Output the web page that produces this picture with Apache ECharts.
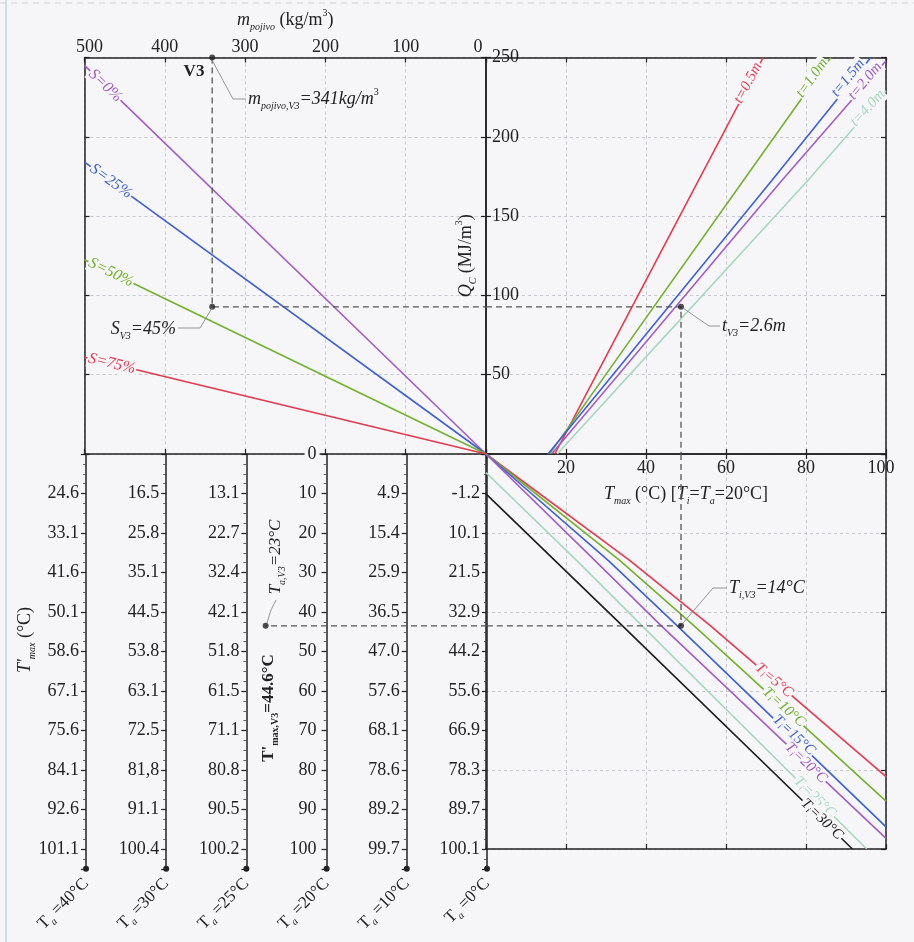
<!DOCTYPE html>
<html><head><meta charset="utf-8">
<script src="https://cdn.jsdelivr.net/npm/echarts@6/dist/echarts.min.js"></script>
<style>html,body{margin:0;padding:0;background:#f6f6f8}#c{width:914px;height:942px}</style>
</head><body><div id="c"></div>
<script>
// ===== DATA =====
// Top-left: Qc vs m_pojivo for several S
const massBinder = [0, 500];
const qS0  = [0, 245];
const qS25 = [0, 184];
const qS50 = [0, 122.5];
const qS75 = [0, 61];
const sNames = ['S=0%', 'S=25%', 'S=50%', 'S=75%'];
const sLabelMass = [474, 467, 467, 466];
const sLabelQ = [232.3, 171.9, 114.4, 56.9];

// Top-right: Qc vs Tmax for several t
const t05Tmax = [17.2, 28.1, 53.1, 69.3], t05Q = [0, 52.4, 172.3, 250];
const t10Tmax = [15.9, 30.6, 64.3, 86.2], t10Q = [0, 52.4, 172.3, 250];
const t15Tmax = [15.5, 32.5, 71.4, 96.2], t15Q = [0, 52.4, 172.3, 250];
const t20Tmax = [16.4, 33.9, 73.9, 100],  t20Q = [0, 52.4, 172.3, 248];
const t40Tmax = [17.8, 36.8, 80.4, 100],  t40Q = [0, 52.4, 172.3, 229];
const tNames = ['t=0.5m', 't=1.0m', 't=1.5m', 't=2.0m', 't=4.0m'];
const tLabelTmax = [65.5, 81.5, 90.5, 94.8, 95.4];
const tLabelQ = [234, 237, 237, 235, 218];

// Bottom-right: T'max vs Tmax for several Ti
const ti5Tmax  = [0, 36, 56, 100],      ti5Tp  = [0, 27, 43.4, 81.7];
const ti10Tmax = [0, 33.5, 51.9, 100],  ti10Tp = [0, 27, 43.4, 87.9];
const ti15Tmax = [0, 30.6, 47.7, 100],  ti15Tp = [0, 27, 43.4, 94.4];
const ti20Tmax = [0, 27.25, 43.7, 100], ti20Tp = [0, 27, 43.4, 97.3];
const ti25Tmax = [0, 22.7, 38.9, 95.2], ti25Tp = [4.7, 27, 43.4, 100];
const ti30Tmax = [0, 17.25, 34, 91.6],  ti30Tp = [10.1, 27, 43.4, 100];
const tiNames = ['5', '10', '15', '20', '25', '30'];
const tiLabelTmax = [72, 74.5, 77, 80, 82.2, 84];
const tiLabelTp = [57.3, 64.1, 71.2, 78.2, 86.9, 92.5];

// Bottom-left: T'max scales for several Ta (labels at 0,10,...,100 of the Ta=20 scale)
const taValues = ['40', '30', '25', '20', '10', '0'];
const ta40 = ['', '24.6', '33.1', '41.6', '50.1', '58.6', '67.1', '75.6', '84.1', '92.6', '101.1'];
const ta30 = ['', '16.5', '25.8', '35.1', '44.5', '53.8', '63.1', '72.5', '81,8', '91.1', '100.4'];
const ta25 = ['', '13.1', '22.7', '32.4', '42.1', '51.8', '61.5', '71.1', '80.8', '90.5', '100.2'];
const ta20 = ['0', '10', '20', '30', '40', '50', '60', '70', '80', '90', '100'];
const ta10 = ['', '4.9', '15.4', '25.9', '36.5', '47.0', '57.6', '68.1', '78.6', '89.2', '99.7'];
const ta0  = ['', '-1.2', '10.1', '21.5', '32.9', '44.2', '55.6', '66.9', '78.3', '89.7', '100.1'];

// Example V3 path
const v3Mass = 341, v3Q = 92.8, v3Tmax = 48.75, v3Tp = 43.5, v3TaPos = 2.24, taAxisLast = 5;

// ===== STYLE =====
const FF = "'Liberation Serif','Times New Roman',serif";
const BG = '#f6f6f8';
const INK = '#222';
const GRIDC = '#bcbcc4';
const COL = { red: '#e6394f', green: '#73b22f', blue: '#3e60d6', purple: '#a35cc8', mint: '#a6d8bf', black: '#1c1c1c' };

function richE(fs, color, lhExtra) {
  const lh = fs + (lhExtra === undefined ? 6 : lhExtra);
  return {
    i: { fontFamily: FF, fontSize: fs, fontStyle: 'italic', color, lineHeight: lh },
    n: { fontFamily: FF, fontSize: fs, fontStyle: 'normal', color, lineHeight: lh },
    s: { fontFamily: FF, fontSize: Math.round(fs * 0.58), fontStyle: 'italic', color, verticalAlign: 'bottom', lineHeight: lhExtra === undefined ? 10 : 6 },
    p: { fontFamily: FF, fontSize: Math.round(fs * 0.58), color, verticalAlign: 'top', lineHeight: 10 }
  };
}
function richZ(fs, color, weight) {
  const w = weight || 'normal';
  const lh = fs + 6;
  return {
    i: { fontFamily: FF, fontSize: fs, fontStyle: 'italic', fontWeight: w, fill: color, lineHeight: lh },
    n: { fontFamily: FF, fontSize: fs, fontStyle: 'normal', fontWeight: w, fill: color, lineHeight: lh },
    b: { fontFamily: FF, fontSize: fs, fontStyle: 'normal', fontWeight: 'bold', fill: color, lineHeight: lh },
    s: { fontFamily: FF, fontSize: Math.round(fs * 0.58), fontStyle: 'italic', fontWeight: w, fill: color, verticalAlign: 'bottom', lineHeight: 10 },
    bs: { fontFamily: FF, fontSize: Math.round(fs * 0.58), fontStyle: 'normal', fontWeight: 'bold', fill: color, verticalAlign: 'bottom', lineHeight: 10 },
    p: { fontFamily: FF, fontSize: Math.round(fs * 0.58), fill: color, verticalAlign: 'top', lineHeight: 10 }
  };
}

const lineAxis = { show: true, onZero: false, lineStyle: { color: INK, width: 1.5 } };
const tickIn = { show: true, inside: true, length: 5, lineStyle: { color: INK, width: 1.2 } };
const dashGrid = { show: true, lineStyle: { color: GRIDC, type: [3, 3], width: 0.8 } };
const tickLabel = { fontFamily: FF, fontSize: 18, color: INK };
const edgeRich = {
  l: { fontFamily: FF, fontSize: 18, color: INK, padding: [0, 0, 0, 10] },
  r: { fontFamily: FF, fontSize: 18, color: INK, padding: [0, 16, 0, 0] },
  r2: { fontFamily: FF, fontSize: 18, color: INK, padding: [0, 10, 0, 0] }
};

function pairs(xs, ys) { return xs.map((x, i) => [x, ys[i]]); }

function lineSeries(xi, yi, data, color, label) {
  const s = {
    type: 'line', xAxisIndex: xi, yAxisIndex: yi, data, symbol: 'none', silent: true,
    lineStyle: { color, width: 1.6 }, z: 3, animation: false
  };
  if (label) {
    s.markPoint = {
      symbol: 'circle', symbolSize: 1, itemStyle: { color: 'rgba(0,0,0,0)' }, silent: true, animation: false,
      data: [{ coord: label.coord, label: {
        show: true, position: 'inside', formatter: label.text, rotate: label.rotate,
        backgroundColor: BG, padding: [0, 1], rich: richE(label.fs || 15, color, 1)
      } }]
    };
  }
  return s;
}

const sColors = [COL.purple, COL.blue, COL.green, COL.red];
const sQ = [qS0, qS25, qS50, qS75];
const sRot = [-44.1, -36, -25.8, -13.6];
const tColors = [COL.red, COL.green, COL.blue, COL.purple, COL.mint];
const tData = [pairs(t05Tmax, t05Q), pairs(t10Tmax, t10Q), pairs(t15Tmax, t15Q), pairs(t20Tmax, t20Q), pairs(t40Tmax, t40Q)];
const tRot = [62.3, 54.7, 50.7, 49.8, 47.5];
const tiColors = [COL.red, COL.green, COL.blue, COL.purple, COL.mint, COL.black];
const tiData = [pairs(ti5Tmax, ti5Tp), pairs(ti10Tmax, ti10Tp), pairs(ti15Tmax, ti15Tp), pairs(ti20Tmax, ti20Tp), pairs(ti25Tmax, ti25Tp), pairs(ti30Tmax, ti30Tp)];
const tiRot = [-40.7, -42.1, -43.1, -43.6, -44.7, -44.1];

const series = [];
sQ.forEach((q, k) => series.push(lineSeries(0, 0, pairs(massBinder, q), sColors[k], {
  coord: [sLabelMass[k], sLabelQ[k]], text: '{i|' + sNames[k] + '}', rotate: sRot[k], fs: 16 })));
tData.forEach((d, k) => series.push(lineSeries(2, 2, d, tColors[k], {
  coord: [tLabelTmax[k], tLabelQ[k]], text: '{i|' + tNames[k] + '}', rotate: tRot[k], fs: 15 })));
tiData.forEach((d, k) => series.push(lineSeries(4, 4, d, tiColors[k], {
  coord: [tiLabelTmax[k], tiLabelTp[k]], text: '{i|T}{s|i}{i|=' + tiNames[k] + '°C}', rotate: tiRot[k], fs: 15 })));

// V3 dashed path
const dashStyle = { color: '#555', width: 1.3, type: [6, 4] };
function dashSeries(xi, yi, data) {
  return { type: 'line', xAxisIndex: xi, yAxisIndex: yi, data, symbol: 'none', silent: true, lineStyle: dashStyle, z: 4, animation: false };
}
series.push(dashSeries(0, 0, [[v3Mass, 250], [v3Mass, v3Q], [0, v3Q]]));
series.push(dashSeries(2, 2, [[0, v3Q], [v3Tmax, v3Q], [v3Tmax, 0]]));
series.push(dashSeries(4, 4, [[v3Tmax, 0], [v3Tmax, v3Tp], [0, v3Tp]]));
series.push(dashSeries(6, 6, [[taAxisLast, v3Tp], [v3TaPos, v3Tp]]));
function dotSeries(xi, yi, data) {
  return { type: 'scatter', xAxisIndex: xi, yAxisIndex: yi, data, symbolSize: 6, itemStyle: { color: INK }, clip: false, silent: true, z: 6, animation: false };
}
series.push(dotSeries(0, 0, [[v3Mass, 250], [v3Mass, v3Q]]));
series.push(dotSeries(2, 2, [[v3Tmax, v3Q]]));
series.push(dotSeries(4, 4, [[v3Tmax, v3Tp]]));
series.push(dotSeries(6, 6, [[v3TaPos, v3Tp]]));

// ===== AXES =====
const xAxis = [
  { gridIndex: 0, type: 'value', position: 'top', min: 0, max: 500, interval: 100, inverse: true,
    axisLine: lineAxis, axisTick: tickIn, splitLine: dashGrid,
    axisLabel: Object.assign({ show: true, margin: 1, rich: edgeRich,
      formatter: v => v === 0 ? '{r|0}' : (v === 500 ? '{l|500}' : String(v)) }, tickLabel),
    name: '{i|m}{s|pojivo}{n| (kg/m}{p|3}{n|)}', nameLocation: 'middle', nameGap: 25,
    nameTextStyle: { rich: richE(18, INK) } },
  { gridIndex: 0, type: 'value', position: 'bottom', min: 0, max: 500, interval: 100, inverse: true,
    axisLine: lineAxis, axisTick: tickIn, axisLabel: { show: false }, splitLine: { show: false } },
  { gridIndex: 1, type: 'value', position: 'bottom', min: 0, max: 100, interval: 20,
    axisLine: lineAxis, axisTick: tickIn, splitLine: dashGrid,
    axisLabel: Object.assign({ show: true, margin: 5, rich: edgeRich,
      formatter: v => v === 0 ? '' : (v === 100 ? '{r2|100}' : String(v)) }, tickLabel),
    name: '{i|T}{s|max}{n| (°C) [}{i|T}{s|i}{n|=}{i|T}{s|a}{n|=20°C]}', nameLocation: 'middle', nameGap: 28,
    nameTextStyle: { rich: richE(18, INK) } },
  { gridIndex: 1, type: 'value', position: 'top', min: 0, max: 100, interval: 20,
    axisLine: lineAxis, axisTick: tickIn, axisLabel: { show: false }, splitLine: { show: false } },
  { gridIndex: 2, type: 'value', position: 'top', min: 0, max: 100, interval: 20,
    axisLine: lineAxis, axisTick: tickIn, axisLabel: { show: false }, splitLine: dashGrid },
  { gridIndex: 2, type: 'value', position: 'bottom', min: 0, max: 100, interval: 20,
    axisLine: lineAxis, axisTick: tickIn, axisLabel: { show: false }, splitLine: { show: false } },
  { gridIndex: 3, type: 'value', min: 0, max: 5, show: false }
];

const taLabelSets = [ta40, ta30, ta25, ta20, ta10, ta0];
const yAxis = [
  { gridIndex: 0, type: 'value', position: 'left', min: 0, max: 250, interval: 50,
    axisLine: lineAxis, axisTick: tickIn, axisLabel: { show: false }, splitLine: dashGrid },
  { gridIndex: 0, type: 'value', position: 'right', min: 0, max: 250, interval: 50,
    axisLine: lineAxis, axisTick: tickIn, axisLabel: { show: false }, splitLine: { show: false } },
  { gridIndex: 1, type: 'value', position: 'left', min: 0, max: 250, interval: 50,
    axisLine: lineAxis, axisTick: tickIn, splitLine: dashGrid,
    axisLabel: Object.assign({ show: true, inside: true, margin: 6, formatter: v => v === 0 ? '' : String(v) }, tickLabel),
    name: '{i|Q}{s|C}{n| (MJ/m}{p|3}{n|)}', nameLocation: 'middle', nameGap: 8, nameRotate: 90,
    nameTextStyle: { rich: richE(18, INK) } },
  { gridIndex: 1, type: 'value', position: 'right', min: 0, max: 250, interval: 50,
    axisLine: lineAxis, axisTick: tickIn, axisLabel: { show: false }, splitLine: { show: false } },
  { gridIndex: 2, type: 'value', position: 'left', min: 0, max: 100, interval: 20, inverse: true,
    axisLine: lineAxis, axisTick: { show: false }, axisLabel: { show: false }, splitLine: dashGrid },
  { gridIndex: 2, type: 'value', position: 'right', min: 0, max: 100, interval: 20, inverse: true,
    axisLine: lineAxis, axisTick: tickIn, axisLabel: { show: false }, splitLine: { show: false } }
];
taLabelSets.forEach((labels, i) => {
  yAxis.push({
    gridIndex: 3, type: 'value', position: 'left', offset: -i * 80.2, min: 0, max: 105, interval: 10, inverse: true,
    axisLine: { show: true, onZero: false, lineStyle: { color: INK, width: 1.5 }, symbol: ['circle', 'none'], symbolSize: [6, 6] },
    axisTick: { show: true, inside: false, length: 5, lineStyle: { color: INK, width: 1.2 } },
    minorTick: { show: true, splitNumber: 4, length: 3, lineStyle: { color: '#444', width: 0.8 } },
    axisLabel: Object.assign({ show: true, margin: 7,
      formatter: v => (v % 10 === 0 && labels[v / 10] !== undefined) ? labels[v / 10] : '',
      backgroundColor: i === 3 ? BG : 'transparent', padding: i === 3 ? [0, 3] : 0 }, tickLabel),
    splitLine: { show: false }
  });
});

// ===== ANNOTATIONS =====
const lead = { stroke: '#8a8a8a', lineWidth: 0.9, fill: null };
function ztext(x, y, text, rich, align, rotation) {
  return { type: 'text', x, y, rotation: rotation || 0, z: 100, silent: true,
    style: { text, rich, align: align || 'left', verticalAlign: 'middle', fill: INK, fontFamily: FF, fontSize: 18 } };
}
const graphic = [
  { type: 'line', silent: true, z: 0, shape: { x1: 6, y1: 0, x2: 6, y2: 942 }, style: { stroke: '#c3d3e2', lineWidth: 1.5 } },
  { type: 'line', silent: true, z: 0, shape: { x1: 0, y1: 3, x2: 914, y2: 3 }, style: { stroke: '#d0d0d6', lineWidth: 1, lineDash: [6, 5] } },
  ztext(194, 72, '{b|V3}', richZ(17, INK), 'center'),
  { type: 'polyline', silent: true, z: 100, shape: { points: [[212, 60], [233, 99], [246, 99]] }, style: lead },
  ztext(248, 99, '{i|m}{s|pojivo,V3}{i|=341kg/m}{p|3}', richZ(18, INK)),
  { type: 'polyline', silent: true, z: 100, shape: { points: [[212, 308], [200, 328], [178, 328]] }, style: lead },
  ztext(176, 329, '{i|S}{s|V3}{i|=45%}', richZ(18, INK), 'right'),
  { type: 'polyline', silent: true, z: 100, shape: { points: [[683, 308], [709, 326], [720, 326]] }, style: lead },
  ztext(722, 326, '{i|t}{s|V3}{i|=2.6m}', richZ(18, INK)),
  { type: 'polyline', silent: true, z: 100, shape: { points: [[683, 623], [713, 588], [727, 588]] }, style: lead },
  ztext(729, 588, '{i|T}{s|i,V3}{i|=14°C}', richZ(18, INK)),
  { type: 'polyline', silent: true, z: 100, shape: { points: [[267, 623], [271, 610], [276, 600]] }, style: lead },
  ztext(276, 557, '{i|T}{s|a,V3}{i|=23°C}', richZ(17, INK), 'center', Math.PI / 2),
  ztext(269, 708, "{b|T'}{bs|max,V3}{b|=44.6°C}", richZ(17, INK, 'bold'), 'center', Math.PI / 2),
  ztext(25, 640, "{i|T'}{s|max}{n| (°C)}", richZ(18, INK), 'center', Math.PI / 2)
];
taValues.forEach((t, i) => {
  graphic.push(ztext(86 + i * 80.2, 881, '{n|T}{s|a}{n| =' + t + '°C}', richZ(17, INK), 'right', Math.PI / 4));
});

const chart = echarts.init(document.getElementById('c'), null, { renderer: 'canvas' });
chart.setOption({
  backgroundColor: BG,
  animation: false,
  textStyle: { fontFamily: FF },
  grid: [
    { left: 84.5, top: 57.5, width: 401.5, height: 396.5, outerBoundsMode: 'none', containLabel: false },
    { left: 486, top: 57.5, width: 400, height: 396.5, outerBoundsMode: 'none', containLabel: false },
    { left: 486, top: 454, width: 400, height: 395, outerBoundsMode: 'none', containLabel: false },
    { left: 86, top: 454, width: 401, height: 414.75, outerBoundsMode: 'none', containLabel: false }
  ],
  xAxis, yAxis, series, graphic
});
</script>
</body></html>
